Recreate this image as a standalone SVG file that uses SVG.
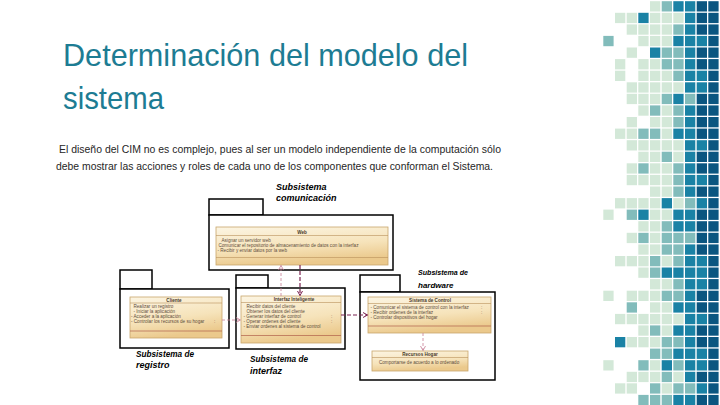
<svg xmlns="http://www.w3.org/2000/svg" width="720" height="405" viewBox="0 0 720 405">
<style>
.L{fill:#d3e8d8}.M{fill:#82bcbb}.T{fill:#1a82a5}.D{fill:#0b5680}
.title{font-family:"Liberation Sans",Arial,sans-serif;font-size:32px;fill:#1d7c93}
.body{font-family:"Liberation Sans",Arial,sans-serif;font-size:11.5px;fill:#262626}
.pkg{fill:#fff;stroke:#000;stroke-width:1.5}
.cls{fill:url(#clsg);stroke:#c9a66b;stroke-width:0.8}
.sep{stroke:#b9905a;stroke-width:0.6}
.sep2{stroke:#b0604a;stroke-width:0.7}
.ct{font-family:"Liberation Sans",Arial,sans-serif;font-size:4.6px;fill:#5e4d3c}
.ch{font-family:"Liberation Sans",Arial,sans-serif;font-size:4.6px;font-weight:bold;fill:#4a3a2a;text-anchor:middle}
.lbl{font-family:"Liberation Sans",Arial,sans-serif;font-size:9px;font-weight:bold;font-style:italic;fill:#000}
.cp{fill:none;stroke:#c77d96;stroke-width:0.8;stroke-dasharray:3 2}
.cd{fill:none;stroke:#7b2250;stroke-width:1.2;stroke-dasharray:4 2}
</style>
<defs>
<linearGradient id="clsg" x1="0" y1="0" x2="0.3" y2="1">
<stop offset="0" stop-color="#fcf5e3"/>
<stop offset="0.6" stop-color="#f6e3ba"/>
<stop offset="1" stop-color="#ebc98c"/>
</linearGradient>
<marker id="ap" markerWidth="6" markerHeight="6" refX="5" refY="3" orient="auto" markerUnits="userSpaceOnUse">
<path d="M0.5,0.5 L5,3 L0.5,5.5" fill="none" stroke="#c77d96" stroke-width="0.8"/>
</marker>
<marker id="ad" markerWidth="6" markerHeight="6" refX="5" refY="3" orient="auto" markerUnits="userSpaceOnUse">
<path d="M0.5,0.5 L5,3 L0.5,5.5" fill="none" stroke="#7b2250" stroke-width="1"/>
</marker>
</defs>
<rect width="720" height="405" fill="#fff"/>

<g id="mosaic">
<rect class="L" x="650.0" y="1.2" width="10.3" height="10.3"/><rect class="M" x="661.7" y="1.2" width="10.3" height="10.3"/><rect class="T" x="673.3" y="1.2" width="10.3" height="10.3"/><rect class="T" x="685.0" y="1.2" width="10.3" height="10.3"/><rect class="D" x="696.7" y="1.2" width="10.3" height="10.3"/><rect class="D" x="708.3" y="1.2" width="10.3" height="10.3"/>
<rect class="L" x="615.0" y="12.8" width="10.3" height="10.3"/><rect class="L" x="626.7" y="12.8" width="10.3" height="10.3"/><rect class="T" x="638.3" y="12.8" width="10.3" height="10.3"/><rect class="L" x="650.0" y="12.8" width="10.3" height="10.3"/><rect class="L" x="661.7" y="12.8" width="10.3" height="10.3"/><rect class="L" x="673.3" y="12.8" width="10.3" height="10.3"/><rect class="T" x="685.0" y="12.8" width="10.3" height="10.3"/><rect class="D" x="696.7" y="12.8" width="10.3" height="10.3"/><rect class="D" x="708.3" y="12.8" width="10.3" height="10.3"/>
<rect class="L" x="626.7" y="24.4" width="10.3" height="10.3"/><rect class="L" x="638.3" y="24.4" width="10.3" height="10.3"/><rect class="L" x="650.0" y="24.4" width="10.3" height="10.3"/><rect class="L" x="661.7" y="24.4" width="10.3" height="10.3"/><rect class="M" x="673.3" y="24.4" width="10.3" height="10.3"/><rect class="T" x="685.0" y="24.4" width="10.3" height="10.3"/><rect class="D" x="696.7" y="24.4" width="10.3" height="10.3"/><rect class="D" x="708.3" y="24.4" width="10.3" height="10.3"/>
<rect class="M" x="603.3" y="35.9" width="10.3" height="10.3"/><rect class="L" x="638.3" y="35.9" width="10.3" height="10.3"/><rect class="L" x="650.0" y="35.9" width="10.3" height="10.3"/><rect class="L" x="661.7" y="35.9" width="10.3" height="10.3"/><rect class="T" x="673.3" y="35.9" width="10.3" height="10.3"/><rect class="T" x="685.0" y="35.9" width="10.3" height="10.3"/><rect class="T" x="696.7" y="35.9" width="10.3" height="10.3"/><rect class="D" x="708.3" y="35.9" width="10.3" height="10.3"/>
<rect class="L" x="626.7" y="47.5" width="10.3" height="10.3"/><rect class="T" x="650.0" y="47.5" width="10.3" height="10.3"/><rect class="M" x="661.7" y="47.5" width="10.3" height="10.3"/><rect class="M" x="673.3" y="47.5" width="10.3" height="10.3"/><rect class="T" x="685.0" y="47.5" width="10.3" height="10.3"/><rect class="D" x="696.7" y="47.5" width="10.3" height="10.3"/><rect class="D" x="708.3" y="47.5" width="10.3" height="10.3"/>
<rect class="L" x="615.0" y="59.1" width="10.3" height="10.3"/><rect class="L" x="638.3" y="59.1" width="10.3" height="10.3"/><rect class="L" x="650.0" y="59.1" width="10.3" height="10.3"/><rect class="M" x="661.7" y="59.1" width="10.3" height="10.3"/><rect class="M" x="673.3" y="59.1" width="10.3" height="10.3"/><rect class="T" x="685.0" y="59.1" width="10.3" height="10.3"/><rect class="D" x="696.7" y="59.1" width="10.3" height="10.3"/><rect class="D" x="708.3" y="59.1" width="10.3" height="10.3"/>
<rect class="L" x="615.0" y="70.7" width="10.3" height="10.3"/><rect class="L" x="638.3" y="70.7" width="10.3" height="10.3"/><rect class="L" x="650.0" y="70.7" width="10.3" height="10.3"/><rect class="L" x="661.7" y="70.7" width="10.3" height="10.3"/><rect class="M" x="673.3" y="70.7" width="10.3" height="10.3"/><rect class="T" x="685.0" y="70.7" width="10.3" height="10.3"/><rect class="T" x="696.7" y="70.7" width="10.3" height="10.3"/><rect class="D" x="708.3" y="70.7" width="10.3" height="10.3"/>
<rect class="L" x="626.7" y="82.3" width="10.3" height="10.3"/><rect class="L" x="638.3" y="82.3" width="10.3" height="10.3"/><rect class="L" x="650.0" y="82.3" width="10.3" height="10.3"/><rect class="L" x="661.7" y="82.3" width="10.3" height="10.3"/><rect class="L" x="673.3" y="82.3" width="10.3" height="10.3"/><rect class="T" x="685.0" y="82.3" width="10.3" height="10.3"/><rect class="T" x="696.7" y="82.3" width="10.3" height="10.3"/><rect class="D" x="708.3" y="82.3" width="10.3" height="10.3"/>
<rect class="L" x="626.7" y="93.8" width="10.3" height="10.3"/><rect class="L" x="638.3" y="93.8" width="10.3" height="10.3"/><rect class="L" x="650.0" y="93.8" width="10.3" height="10.3"/><rect class="M" x="661.7" y="93.8" width="10.3" height="10.3"/><rect class="T" x="673.3" y="93.8" width="10.3" height="10.3"/><rect class="M" x="685.0" y="93.8" width="10.3" height="10.3"/><rect class="D" x="696.7" y="93.8" width="10.3" height="10.3"/><rect class="D" x="708.3" y="93.8" width="10.3" height="10.3"/>
<rect class="L" x="638.3" y="105.4" width="10.3" height="10.3"/><rect class="M" x="650.0" y="105.4" width="10.3" height="10.3"/><rect class="L" x="661.7" y="105.4" width="10.3" height="10.3"/><rect class="M" x="673.3" y="105.4" width="10.3" height="10.3"/><rect class="T" x="685.0" y="105.4" width="10.3" height="10.3"/><rect class="D" x="696.7" y="105.4" width="10.3" height="10.3"/><rect class="D" x="708.3" y="105.4" width="10.3" height="10.3"/>
<rect class="L" x="626.7" y="117.0" width="10.3" height="10.3"/><rect class="L" x="650.0" y="117.0" width="10.3" height="10.3"/><rect class="L" x="661.7" y="117.0" width="10.3" height="10.3"/><rect class="M" x="673.3" y="117.0" width="10.3" height="10.3"/><rect class="T" x="685.0" y="117.0" width="10.3" height="10.3"/><rect class="D" x="696.7" y="117.0" width="10.3" height="10.3"/><rect class="D" x="708.3" y="117.0" width="10.3" height="10.3"/>
<rect class="L" x="615.0" y="128.6" width="10.3" height="10.3"/><rect class="L" x="626.7" y="128.6" width="10.3" height="10.3"/><rect class="M" x="638.3" y="128.6" width="10.3" height="10.3"/><rect class="M" x="650.0" y="128.6" width="10.3" height="10.3"/><rect class="L" x="661.7" y="128.6" width="10.3" height="10.3"/><rect class="T" x="673.3" y="128.6" width="10.3" height="10.3"/><rect class="T" x="685.0" y="128.6" width="10.3" height="10.3"/><rect class="D" x="696.7" y="128.6" width="10.3" height="10.3"/><rect class="D" x="708.3" y="128.6" width="10.3" height="10.3"/>
<rect class="L" x="626.7" y="140.2" width="10.3" height="10.3"/><rect class="L" x="638.3" y="140.2" width="10.3" height="10.3"/><rect class="L" x="650.0" y="140.2" width="10.3" height="10.3"/><rect class="L" x="661.7" y="140.2" width="10.3" height="10.3"/><rect class="L" x="673.3" y="140.2" width="10.3" height="10.3"/><rect class="T" x="685.0" y="140.2" width="10.3" height="10.3"/><rect class="T" x="696.7" y="140.2" width="10.3" height="10.3"/><rect class="D" x="708.3" y="140.2" width="10.3" height="10.3"/>
<rect class="L" x="638.3" y="151.7" width="10.3" height="10.3"/><rect class="L" x="650.0" y="151.7" width="10.3" height="10.3"/><rect class="M" x="661.7" y="151.7" width="10.3" height="10.3"/><rect class="L" x="673.3" y="151.7" width="10.3" height="10.3"/><rect class="T" x="685.0" y="151.7" width="10.3" height="10.3"/><rect class="D" x="696.7" y="151.7" width="10.3" height="10.3"/><rect class="D" x="708.3" y="151.7" width="10.3" height="10.3"/>
<rect class="L" x="626.7" y="163.3" width="10.3" height="10.3"/><rect class="M" x="638.3" y="163.3" width="10.3" height="10.3"/><rect class="L" x="650.0" y="163.3" width="10.3" height="10.3"/><rect class="L" x="661.7" y="163.3" width="10.3" height="10.3"/><rect class="M" x="673.3" y="163.3" width="10.3" height="10.3"/><rect class="T" x="685.0" y="163.3" width="10.3" height="10.3"/><rect class="D" x="696.7" y="163.3" width="10.3" height="10.3"/><rect class="D" x="708.3" y="163.3" width="10.3" height="10.3"/>
<rect class="L" x="626.7" y="174.9" width="10.3" height="10.3"/><rect class="L" x="638.3" y="174.9" width="10.3" height="10.3"/><rect class="L" x="650.0" y="174.9" width="10.3" height="10.3"/><rect class="L" x="661.7" y="174.9" width="10.3" height="10.3"/><rect class="M" x="673.3" y="174.9" width="10.3" height="10.3"/><rect class="T" x="685.0" y="174.9" width="10.3" height="10.3"/><rect class="T" x="696.7" y="174.9" width="10.3" height="10.3"/><rect class="D" x="708.3" y="174.9" width="10.3" height="10.3"/>
<rect class="L" x="650.0" y="186.5" width="10.3" height="10.3"/><rect class="L" x="661.7" y="186.5" width="10.3" height="10.3"/><rect class="M" x="673.3" y="186.5" width="10.3" height="10.3"/><rect class="T" x="685.0" y="186.5" width="10.3" height="10.3"/><rect class="D" x="696.7" y="186.5" width="10.3" height="10.3"/><rect class="D" x="708.3" y="186.5" width="10.3" height="10.3"/>
<rect class="L" x="615.0" y="198.1" width="10.3" height="10.3"/><rect class="L" x="626.7" y="198.1" width="10.3" height="10.3"/><rect class="L" x="638.3" y="198.1" width="10.3" height="10.3"/><rect class="L" x="650.0" y="198.1" width="10.3" height="10.3"/><rect class="T" x="661.7" y="198.1" width="10.3" height="10.3"/><rect class="L" x="673.3" y="198.1" width="10.3" height="10.3"/><rect class="M" x="685.0" y="198.1" width="10.3" height="10.3"/><rect class="T" x="696.7" y="198.1" width="10.3" height="10.3"/><rect class="D" x="708.3" y="198.1" width="10.3" height="10.3"/>
<rect class="L" x="603.3" y="209.6" width="10.3" height="10.3"/><rect class="M" x="626.7" y="209.6" width="10.3" height="10.3"/><rect class="T" x="638.3" y="209.6" width="10.3" height="10.3"/><rect class="L" x="650.0" y="209.6" width="10.3" height="10.3"/><rect class="L" x="661.7" y="209.6" width="10.3" height="10.3"/><rect class="T" x="673.3" y="209.6" width="10.3" height="10.3"/><rect class="T" x="685.0" y="209.6" width="10.3" height="10.3"/><rect class="D" x="696.7" y="209.6" width="10.3" height="10.3"/><rect class="D" x="708.3" y="209.6" width="10.3" height="10.3"/>
<rect class="L" x="638.3" y="221.2" width="10.3" height="10.3"/><rect class="L" x="650.0" y="221.2" width="10.3" height="10.3"/><rect class="M" x="661.7" y="221.2" width="10.3" height="10.3"/><rect class="T" x="673.3" y="221.2" width="10.3" height="10.3"/><rect class="T" x="685.0" y="221.2" width="10.3" height="10.3"/><rect class="D" x="696.7" y="221.2" width="10.3" height="10.3"/><rect class="D" x="708.3" y="221.2" width="10.3" height="10.3"/>
<rect class="L" x="626.7" y="232.8" width="10.3" height="10.3"/><rect class="M" x="638.3" y="232.8" width="10.3" height="10.3"/><rect class="L" x="650.0" y="232.8" width="10.3" height="10.3"/><rect class="M" x="661.7" y="232.8" width="10.3" height="10.3"/><rect class="M" x="673.3" y="232.8" width="10.3" height="10.3"/><rect class="M" x="685.0" y="232.8" width="10.3" height="10.3"/><rect class="D" x="696.7" y="232.8" width="10.3" height="10.3"/><rect class="D" x="708.3" y="232.8" width="10.3" height="10.3"/>
<rect class="L" x="638.3" y="244.4" width="10.3" height="10.3"/><rect class="L" x="650.0" y="244.4" width="10.3" height="10.3"/><rect class="M" x="661.7" y="244.4" width="10.3" height="10.3"/><rect class="M" x="673.3" y="244.4" width="10.3" height="10.3"/><rect class="T" x="685.0" y="244.4" width="10.3" height="10.3"/><rect class="D" x="696.7" y="244.4" width="10.3" height="10.3"/><rect class="D" x="708.3" y="244.4" width="10.3" height="10.3"/>
<rect class="L" x="615.0" y="256.0" width="10.3" height="10.3"/><rect class="L" x="626.7" y="256.0" width="10.3" height="10.3"/><rect class="L" x="638.3" y="256.0" width="10.3" height="10.3"/><rect class="M" x="650.0" y="256.0" width="10.3" height="10.3"/><rect class="L" x="661.7" y="256.0" width="10.3" height="10.3"/><rect class="M" x="673.3" y="256.0" width="10.3" height="10.3"/><rect class="T" x="685.0" y="256.0" width="10.3" height="10.3"/><rect class="T" x="696.7" y="256.0" width="10.3" height="10.3"/><rect class="D" x="708.3" y="256.0" width="10.3" height="10.3"/>
<rect class="L" x="638.3" y="267.5" width="10.3" height="10.3"/><rect class="M" x="650.0" y="267.5" width="10.3" height="10.3"/><rect class="T" x="661.7" y="267.5" width="10.3" height="10.3"/><rect class="T" x="673.3" y="267.5" width="10.3" height="10.3"/><rect class="T" x="685.0" y="267.5" width="10.3" height="10.3"/><rect class="T" x="696.7" y="267.5" width="10.3" height="10.3"/><rect class="D" x="708.3" y="267.5" width="10.3" height="10.3"/>
<rect class="L" x="650.0" y="279.1" width="10.3" height="10.3"/><rect class="L" x="661.7" y="279.1" width="10.3" height="10.3"/><rect class="M" x="673.3" y="279.1" width="10.3" height="10.3"/><rect class="T" x="685.0" y="279.1" width="10.3" height="10.3"/><rect class="T" x="696.7" y="279.1" width="10.3" height="10.3"/><rect class="D" x="708.3" y="279.1" width="10.3" height="10.3"/>
<rect class="L" x="603.3" y="290.7" width="10.3" height="10.3"/><rect class="L" x="626.7" y="290.7" width="10.3" height="10.3"/><rect class="L" x="638.3" y="290.7" width="10.3" height="10.3"/><rect class="L" x="650.0" y="290.7" width="10.3" height="10.3"/><rect class="M" x="661.7" y="290.7" width="10.3" height="10.3"/><rect class="M" x="673.3" y="290.7" width="10.3" height="10.3"/><rect class="T" x="685.0" y="290.7" width="10.3" height="10.3"/><rect class="D" x="696.7" y="290.7" width="10.3" height="10.3"/><rect class="D" x="708.3" y="290.7" width="10.3" height="10.3"/>
<rect class="M" x="626.7" y="302.3" width="10.3" height="10.3"/><rect class="L" x="650.0" y="302.3" width="10.3" height="10.3"/><rect class="L" x="661.7" y="302.3" width="10.3" height="10.3"/><rect class="T" x="673.3" y="302.3" width="10.3" height="10.3"/><rect class="T" x="685.0" y="302.3" width="10.3" height="10.3"/><rect class="D" x="696.7" y="302.3" width="10.3" height="10.3"/><rect class="D" x="708.3" y="302.3" width="10.3" height="10.3"/>
<rect class="L" x="615.0" y="313.9" width="10.3" height="10.3"/><rect class="L" x="626.7" y="313.9" width="10.3" height="10.3"/><rect class="L" x="638.3" y="313.9" width="10.3" height="10.3"/><rect class="L" x="650.0" y="313.9" width="10.3" height="10.3"/><rect class="L" x="661.7" y="313.9" width="10.3" height="10.3"/><rect class="L" x="673.3" y="313.9" width="10.3" height="10.3"/><rect class="T" x="685.0" y="313.9" width="10.3" height="10.3"/><rect class="T" x="696.7" y="313.9" width="10.3" height="10.3"/><rect class="D" x="708.3" y="313.9" width="10.3" height="10.3"/>
<rect class="L" x="638.3" y="325.4" width="10.3" height="10.3"/><rect class="M" x="650.0" y="325.4" width="10.3" height="10.3"/><rect class="L" x="661.7" y="325.4" width="10.3" height="10.3"/><rect class="T" x="673.3" y="325.4" width="10.3" height="10.3"/><rect class="T" x="685.0" y="325.4" width="10.3" height="10.3"/><rect class="D" x="696.7" y="325.4" width="10.3" height="10.3"/><rect class="D" x="708.3" y="325.4" width="10.3" height="10.3"/>
<rect class="T" x="615.0" y="337.0" width="10.3" height="10.3"/><rect class="L" x="626.7" y="337.0" width="10.3" height="10.3"/><rect class="L" x="638.3" y="337.0" width="10.3" height="10.3"/><rect class="L" x="650.0" y="337.0" width="10.3" height="10.3"/><rect class="M" x="661.7" y="337.0" width="10.3" height="10.3"/><rect class="M" x="673.3" y="337.0" width="10.3" height="10.3"/><rect class="T" x="685.0" y="337.0" width="10.3" height="10.3"/><rect class="D" x="696.7" y="337.0" width="10.3" height="10.3"/><rect class="D" x="708.3" y="337.0" width="10.3" height="10.3"/>
<rect class="M" x="650.0" y="348.6" width="10.3" height="10.3"/><rect class="M" x="661.7" y="348.6" width="10.3" height="10.3"/><rect class="T" x="673.3" y="348.6" width="10.3" height="10.3"/><rect class="T" x="685.0" y="348.6" width="10.3" height="10.3"/><rect class="T" x="696.7" y="348.6" width="10.3" height="10.3"/><rect class="D" x="708.3" y="348.6" width="10.3" height="10.3"/>
<rect class="L" x="603.3" y="360.2" width="10.3" height="10.3"/><rect class="M" x="638.3" y="360.2" width="10.3" height="10.3"/><rect class="L" x="650.0" y="360.2" width="10.3" height="10.3"/><rect class="T" x="661.7" y="360.2" width="10.3" height="10.3"/><rect class="M" x="673.3" y="360.2" width="10.3" height="10.3"/><rect class="T" x="685.0" y="360.2" width="10.3" height="10.3"/><rect class="T" x="696.7" y="360.2" width="10.3" height="10.3"/><rect class="D" x="708.3" y="360.2" width="10.3" height="10.3"/>
<rect class="L" x="626.7" y="371.8" width="10.3" height="10.3"/><rect class="L" x="638.3" y="371.8" width="10.3" height="10.3"/><rect class="L" x="650.0" y="371.8" width="10.3" height="10.3"/><rect class="M" x="661.7" y="371.8" width="10.3" height="10.3"/><rect class="L" x="673.3" y="371.8" width="10.3" height="10.3"/><rect class="T" x="685.0" y="371.8" width="10.3" height="10.3"/><rect class="D" x="696.7" y="371.8" width="10.3" height="10.3"/><rect class="D" x="708.3" y="371.8" width="10.3" height="10.3"/>
<rect class="L" x="615.0" y="383.3" width="10.3" height="10.3"/><rect class="L" x="626.7" y="383.3" width="10.3" height="10.3"/><rect class="M" x="650.0" y="383.3" width="10.3" height="10.3"/><rect class="L" x="661.7" y="383.3" width="10.3" height="10.3"/><rect class="M" x="673.3" y="383.3" width="10.3" height="10.3"/><rect class="M" x="685.0" y="383.3" width="10.3" height="10.3"/><rect class="T" x="696.7" y="383.3" width="10.3" height="10.3"/><rect class="D" x="708.3" y="383.3" width="10.3" height="10.3"/>
<rect class="M" x="638.3" y="394.9" width="10.3" height="10.3"/><rect class="M" x="650.0" y="394.9" width="10.3" height="10.3"/><rect class="M" x="661.7" y="394.9" width="10.3" height="10.3"/><rect class="T" x="673.3" y="394.9" width="10.3" height="10.3"/><rect class="T" x="685.0" y="394.9" width="10.3" height="10.3"/><rect class="D" x="696.7" y="394.9" width="10.3" height="10.3"/><rect class="D" x="708.3" y="394.9" width="10.3" height="10.3"/>
</g>

<g id="title">
<text class="title" x="63" y="66" textLength="405" lengthAdjust="spacingAndGlyphs">Determinación del modelo del</text>
<text class="title" x="63" y="109" textLength="101" lengthAdjust="spacingAndGlyphs">sistema</text>
</g>
<g id="body">
<text class="body" x="59" y="153" textLength="442" lengthAdjust="spacingAndGlyphs">El diseño del CIM no es complejo, pues al ser un modelo independiente de la computación sólo</text>
<text class="body" x="56" y="169.5" textLength="437" lengthAdjust="spacingAndGlyphs">debe mostrar las acciones y roles de cada uno de los componentes que conforman el Sistema.</text>
</g>

<g id="pkg-comunicacion">
<rect class="pkg" x="209" y="199" width="54" height="16"/>
<rect class="pkg" x="209" y="215" width="184" height="55"/>
<text class="lbl" x="276" y="189.5">Subsistema</text>
<text class="lbl" x="276" y="201">comunicación</text>
</g>
<g id="pkg-registro">
<rect class="pkg" x="120" y="270" width="32" height="19"/>
<rect class="pkg" x="120" y="289" width="109" height="59"/>
<text class="lbl" x="136" y="356.5" textLength="58" lengthAdjust="spacingAndGlyphs">Subsistema de</text>
<text class="lbl" x="136" y="367.5">registro</text>
</g>
<g id="pkg-interfaz">
<rect class="pkg" x="236" y="275" width="32" height="13"/>
<rect class="pkg" x="236" y="288" width="109" height="61"/>
<text class="lbl" x="250" y="362" textLength="58" lengthAdjust="spacingAndGlyphs">Subsistema de</text>
<text class="lbl" x="250" y="373.5">interfaz</text>
</g>
<g id="pkg-hardware">
<rect class="pkg" x="360" y="275" width="40" height="17"/>
<rect class="pkg" x="360" y="292" width="135" height="88"/>
<text class="lbl" x="418" y="275" style="font-size:8px" textLength="50" lengthAdjust="spacingAndGlyphs">Subsistema de</text>
<text class="lbl" x="418" y="287.5" style="font-size:8px">hardware</text>
</g>

<g id="class-web">
<rect class="cls" x="216" y="227" width="172" height="38"/>
<text class="ch" x="302" y="233.5">Web</text>
<line class="sep" x1="216" y1="235.5" x2="388" y2="235.5"/>
<text class="ct" x="221.5" y="241.5">Asignar un servidor web</text>
<text class="ct" x="218.5" y="246.5">Comunicar el repositorio de almacenamiento de datos con la interfaz</text>
<text class="ct" x="217.5" y="252">- Recibir y enviar datos por la web</text>
<line class="sep" x1="216" y1="257.5" x2="388" y2="257.5"/>
</g>
<g id="class-cliente">
<rect class="cls" x="130" y="297" width="92" height="41"/>
<text class="ch" x="174" y="301.5">Cliente</text>
<line class="sep" x1="130" y1="303" x2="222" y2="303"/>
<text class="ct" x="133.5" y="308">Realizar un registro</text>
<text class="ct" x="133.5" y="313">- Iniciar la aplicación</text>
<text class="ct" x="131" y="318">- Acceder a la aplicación</text>
<text class="ct" x="131" y="323">- Controlar los recursos de su hogar</text>
<text class="ct" x="214" y="323">:</text>
<line class="sep2" x1="130" y1="331" x2="222" y2="331"/>
</g>
<g id="class-interfaz">
<rect class="cls" x="241" y="296" width="100" height="47"/>
<text class="ch" x="294" y="301">Interfaz Inteligente</text>
<line class="sep" x1="241" y1="302.5" x2="341" y2="302.5"/>
<text class="ct" x="246.5" y="307.5">Recibir datos del cliente</text>
<text class="ct" x="246.5" y="312.5">Obtener los datos del cliente</text>
<text class="ct" x="243.5" y="317.5">- Generar interfaz de control</text>
<text class="ct" x="243.5" y="322.5">- Operar ordenes del cliente</text>
<text class="ct" x="243.5" y="327.5">- Enviar ordenes al sistema de control</text>
<text class="ct" x="331" y="317.5">:</text>
<text class="ct" x="331" y="322.5">:</text>
<line class="sep2" x1="241" y1="335.5" x2="341" y2="335.5"/>
</g>
<g id="class-sistema">
<rect class="cls" x="368" y="297" width="123" height="36"/>
<text class="ch" x="430" y="301.5">Sistema de Control</text>
<line class="sep" x1="368" y1="303.5" x2="491" y2="303.5"/>
<text class="ct" x="370.5" y="308.5">- Comunicar el sistema de control con la interfaz</text>
<text class="ct" x="370.5" y="313.5">- Recibir ordenes de la interfaz</text>
<text class="ct" x="370.5" y="318.5">- Controlar dispositivos del hogar</text>
<text class="ct" x="481" y="308.5">:</text>
<text class="ct" x="481" y="313.5">:</text>
<line class="sep2" x1="368" y1="326" x2="491" y2="326"/>
</g>
<g id="class-recursos">
<rect class="cls" x="372" y="351" width="96" height="20"/>
<text class="ch" x="420" y="355.8">Recursos Hogar</text>
<line class="sep" x1="372" y1="357.5" x2="468" y2="357.5"/>
<text class="ct" x="379" y="364">Comportarse de acuerdo a lo ordenado</text>
</g>

<g id="connectors">
<line class="cp" x1="281" y1="296" x2="281" y2="265.5" marker-end="url(#ap)"/>
<line class="cd" x1="300" y1="265" x2="300" y2="295.5" marker-end="url(#ad)"/>
<line class="cp" x1="222" y1="320" x2="240.5" y2="320" marker-end="url(#ap)"/>
<line class="cd" x1="341" y1="315" x2="367.5" y2="315" marker-end="url(#ad)"/>
<line class="cp" x1="423" y1="333" x2="423" y2="350.5" marker-end="url(#ap)"/>
</g>
</svg>
